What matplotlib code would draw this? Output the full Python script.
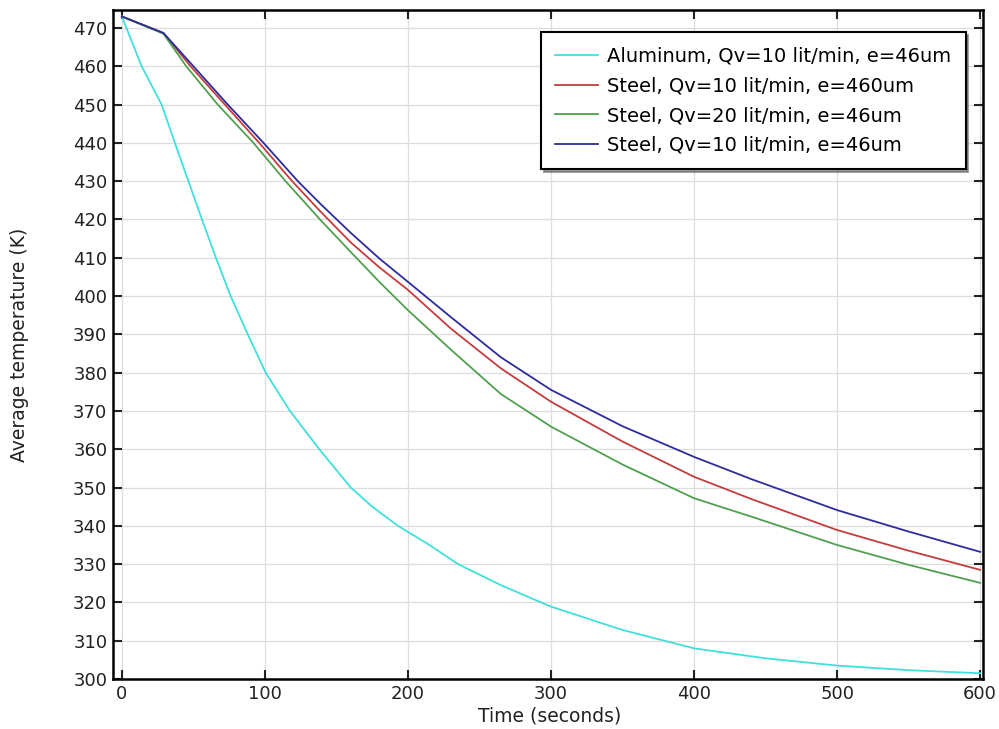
import matplotlib
matplotlib.use("Agg")
import matplotlib.pyplot as plt

# Data
t_al = [0, 13.8, 27.8, 37, 46.5, 56, 65.7, 76, 88, 100.5, 117.5, 138, 160, 175, 193, 215, 235, 265, 293, 300, 350, 400, 450, 500, 550, 600]
T_al = [473, 460, 450, 440, 430, 420, 410, 400, 390, 380, 370, 360, 350, 345, 340, 335, 330, 324.5, 320, 318.9, 312.8, 308, 305.4, 303.5, 302.3, 301.5]

t_red = [0, 29, 48, 72, 96, 119, 139, 160, 180, 200, 230, 265, 300, 350, 400, 440, 500, 550, 600]
T_red = [473, 468.7, 460, 450, 440, 430, 422, 414, 407.5, 401.6, 391.5, 381.1, 372.4, 362, 352.8, 347, 338.9, 333.5, 328.5]

t_green = [0, 29, 45, 67, 92, 114.4, 139, 160, 180, 200, 230, 265, 300, 350, 400, 440, 500, 550, 600]
T_green = [473, 468.5, 460, 450, 440, 430, 419.8, 411.5, 403.7, 396.3, 386, 374.4, 365.9, 356, 347.2, 342.4, 335, 329.8, 325.1]

t_blue = [0, 29, 50, 74, 99, 123, 139, 160, 180, 200, 230, 265, 300, 350, 400, 440, 500, 550, 600]
T_blue = [473, 468.7, 460, 450, 440, 430, 424, 416.5, 409.8, 403.7, 394.5, 384, 375.5, 366, 358, 352.2, 344.1, 338.5, 333.2]

labels = ["Aluminum, Qv=10 lit/min, e=46um",
          "Steel, Qv=10 lit/min, e=460um",
          "Steel, Qv=20 lit/min, e=46um",
          "Steel, Qv=10 lit/min, e=46um"]
colors = ["#3fe0dc", "#c43c3c", "#4fa04f", "#2c2c9c"]

xticks = [0, 100, 200, 300, 400, 500, 600]
yticks = list(range(300, 471, 10))

fig = plt.figure(figsize=(9.99, 7.29), dpi=100)
ax = fig.add_axes([0.113, 0.0686, 0.871, 0.9177])

series = [(t_al, T_al), (t_red, T_red), (t_green, T_green), (t_blue, T_blue)]
for (tx, ty), lab, c in zip(series, labels, colors):
    ax.plot(tx, ty, color=c, lw=1.3, label=lab)

ax.set_xlim(-6.3, 602)
ax.set_ylim(300, 474.7)
ax.set_xticks(xticks)
ax.set_yticks(yticks)
ax.grid(True, color="#dddddd", lw=0.9)
ax.set_axisbelow(True)
ax.tick_params(direction="in", length=6.5, width=1.5, top=True, right=True,
               labelsize=13, colors="#222222", pad=4)
for s in ax.spines.values():
    s.set_linewidth(1.8)
ax.set_xlabel("Time (seconds)", fontsize=13.5, color="#222222")
ax.set_ylabel("Average temperature (K)", fontsize=13.5, color="#222222")
ax.xaxis.set_label_coords(0.502, -0.041)
ax.yaxis.set_label_coords(-0.096, 0.5)

leg = ax.legend(loc="upper right", fontsize=14, frameon=True, fancybox=False,
                shadow=True, edgecolor="black", borderpad=0.75, handlelength=2.2,
                handletextpad=0.45, bbox_to_anchor=(0.98, 0.967), labelspacing=0.55,
                borderaxespad=0)
leg.get_frame().set_linewidth(1.5)

fig.savefig("out.png", dpi=100)
